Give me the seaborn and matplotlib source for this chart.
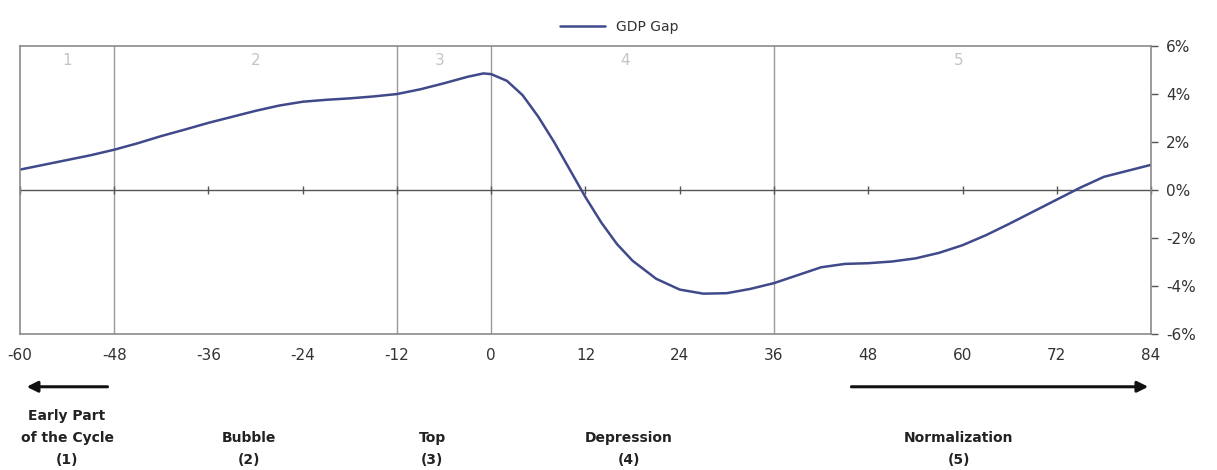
import numpy as np
import pandas as pd
import matplotlib
matplotlib.use("Agg")
from matplotlib import pyplot as plt
from matplotlib.ticker import FuncFormatter
import seaborn as sns

# months relative to the top of the cycle, and the GDP gap (%)
months = [-60, -57, -54, -51, -48, -45, -42, -39, -36, -33, -30, -27, -24, -21, -18,
          -15, -12, -9, -6, -3, -1, 0, 2, 4, 6, 8, 10, 12, 14, 16, 18, 21, 24, 27,
          30, 33, 36, 39, 42, 45, 48, 51, 54, 57, 60, 63, 66, 69, 72, 75, 78, 81, 84]
gdp_gap = [0.85, 1.05, 1.25, 1.45, 1.68, 1.95, 2.25, 2.52, 2.8, 3.05, 3.3, 3.52, 3.68, 3.76, 3.82,
           3.9, 4.0, 4.2, 4.45, 4.72, 4.86, 4.83, 4.55, 3.95, 3.05, 2.0, 0.85, -0.3, -1.35, -2.25, -2.95, -3.7, -4.15, -4.32,
           -4.3, -4.12, -3.88, -3.55, -3.22, -3.08, -3.05, -2.98, -2.85, -2.62, -2.3, -1.88, -1.4, -0.9, -0.4, 0.1, 0.55, 0.8, 1.05]

phase_bounds = [-48, -12, 0, 36]
phase_nums = ["1", "2", "3", "4", "5"]
phase_num_x = [-54, -30, -6.5, 17, 59.5]
phase_names = ["Early Part\nof the Cycle\n(1)", "Bubble\n(2)", "Top\n(3)", "Depression\n(4)", "Normalization\n(5)"]
phase_name_x = [-54, -30.8, -7.5, 17.5, 59.5]
x_ticks = list(range(-60, 85, 12))
y_ticks = [-6, -4, -2, 0, 2, 4, 6]

df = pd.DataFrame({"month": months, "GDP Gap": gdp_gap})

sns.set_theme(style="white")
plt.rcParams["font.family"] = ["DejaVu Sans"]
plt.rcParams["axes.unicode_minus"] = False

fig = plt.figure(figsize=(12.17, 4.70), dpi=100)
ax = fig.add_axes([0.0164, 0.2894, 0.9294, 0.6126])

line_color = "#404a8a"
sns.lineplot(data=df, x="month", y="GDP Gap", color=line_color, linewidth=1.8,
             label="GDP Gap", ax=ax)

ax.set_xlim(-60, 84)
ax.set_ylim(-6, 6)

# phase separators
for b in phase_bounds:
    ax.axvline(b, color="#9a9a9a", linewidth=1.0, zorder=0)

# zero line with small ticks
ax.axhline(0, color="#555555", linewidth=1.0, zorder=1)
sec = ax.secondary_xaxis(0.5)
sec.set_xticks(x_ticks)
sec.set_xticklabels([])
sec.tick_params(direction="inout", length=6, width=1, color="#555555",
                labelbottom=False, labeltop=False)
for sp in sec.spines.values():
    sp.set_visible(False)

for sp in ax.spines.values():
    sp.set_color("#8a8a8a")
    sp.set_linewidth(1.2)

ax.set_xticks(x_ticks)
ax.set_xticklabels([str(t) for t in x_ticks], fontsize=11, color="#333333")
ax.tick_params(axis="x", length=0, pad=10)

ax.yaxis.tick_right()
ax.set_yticks(y_ticks)
ax.yaxis.set_major_formatter(FuncFormatter(lambda v, p: f"{v:.0f}%"))
ax.tick_params(axis="y", direction="out", length=5, width=1, color="#555555",
               labelsize=11, labelcolor="#333333", pad=6)
ax.set_xlabel("")
ax.set_ylabel("")

# phase numbers
for xn, s in zip(phase_num_x, phase_nums):
    ax.text(xn, 5.4, s, ha="center", va="center", fontsize=11, color="#c4c4c4")

# phase names below the chart
for xn, s in zip(phase_name_x, phase_names):
    ax.text(xn, -11.55, s, ha="center", va="bottom", fontsize=10, fontweight="bold",
            color="#222222", linespacing=1.75, clip_on=False)

# arrows
ax.annotate("", xy=(-59.5, -8.2), xytext=(-48.5, -8.2), annotation_clip=False,
            arrowprops=dict(arrowstyle="-|>", color="#111111", lw=2.2, mutation_scale=16))
ax.annotate("", xy=(84, -8.2), xytext=(45.5, -8.2), annotation_clip=False,
            arrowprops=dict(arrowstyle="-|>", color="#111111", lw=2.2, mutation_scale=16))

leg = ax.legend(loc="lower center", bbox_to_anchor=(0.53, 1.0), frameon=False,
                fontsize=10, handlelength=3.2)
for t in leg.get_texts():
    t.set_color("#333333")

fig.savefig("out.png", dpi=100)
